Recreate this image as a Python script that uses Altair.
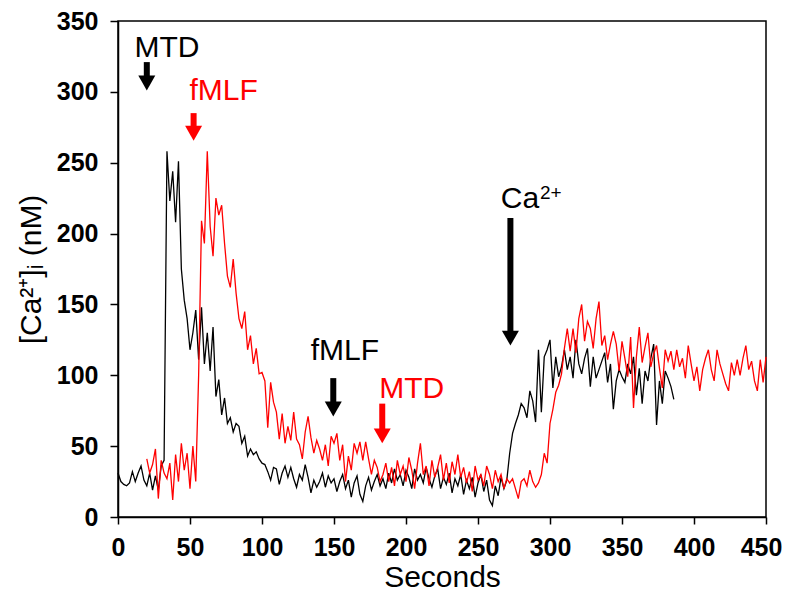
import altair as alt
import pandas as pd

# ---- data ----
black_t0 = 0
black_dt = 2
black_ca = [31, 25, 23, 22, 24, 32, 25, 31, 36, 26, 22, 31, 19, 29, 19, 36, 40,
            258, 223, 244, 208, 251, 175, 153, 140, 118, 130, 146, 111, 148, 108, 130,
            103, 134, 85, 97, 72, 84, 66, 70, 60, 66, 64, 52, 57, 43, 48, 44, 46, 41,
            38, 37, 32, 26, 35, 34, 23, 31, 36, 28, 35, 27, 21, 30, 26, 37, 28, 17,
            26, 21, 25, 31, 21, 29, 24, 27, 18, 25, 30, 20, 26, 14, 24, 29, 16, 11,
            22, 28, 19, 25, 30, 22, 27, 20, 31, 24, 34, 26, 30, 22, 33, 28, 20, 34,
            26, 30, 24, 35, 27, 21, 29, 34, 20, 28, 23, 31, 17, 27, 22, 30, 16, 26,
            20, 28, 14, 24, 30, 18, 26, 12, 8, 22, 15, 28, 20, 26, 45, 59, 66, 72,
            80, 77, 70, 89, 82, 67, 118, 74, 113, 118, 125, 91, 113, 99, 106, 118,
            104, 113, 98, 125, 108, 101, 112, 119, 92, 113, 98, 104, 110, 116, 95,
            108, 76, 96, 104, 99, 95, 108, 101, 113, 86, 105, 80, 103, 96, 112, 122,
            65, 96, 80, 103, 98, 92, 83]

red_t0 = 20
red_dt = 2
red_ca = [41, 31, 37, 48, 13, 40, 31, 27, 38, 12, 44, 25, 52, 33, 45, 20, 50, 25,
          100, 209, 193, 258, 205, 184, 225, 213, 220, 193, 170, 162, 182, 158, 140,
          133, 145, 118, 128, 108, 119, 101, 102, 96, 63, 95, 81, 74, 55, 73, 52, 64,
          54, 74, 55, 51, 41, 60, 71, 56, 45, 54, 48, 40, 51, 36, 57, 52, 59, 40, 51,
          25, 43, 33, 52, 45, 53, 40, 53, 41, 30, 40, 35, 25, 30, 38, 25, 35, 22, 40,
          30, 36, 25, 42, 33, 20, 38, 52, 30, 36, 22, 40, 28, 35, 44, 26, 38, 24, 39,
          30, 44, 28, 35, 24, 32, 18, 36, 26, 30, 22, 36, 30, 20, 33, 25, 30, 20, 27,
          24, 27, 20, 13, 25, 27, 22, 33, 25, 21, 24, 30, 45, 38, 66, 76, 88, 93, 101,
          119, 133, 117, 133, 116, 140, 150, 124, 138, 133, 119, 140, 152, 121, 128,
          111, 122, 131, 122, 103, 124, 112, 99, 127, 77, 113, 134, 109, 120, 130, 106,
          115, 121, 105, 91, 118, 110, 117, 104, 118, 106, 112, 98, 121, 108, 96, 106,
          89, 104, 112, 118, 104, 96, 118, 108, 101, 94, 89, 109, 100, 111, 100, 112,
          121, 104, 110, 96, 89, 111, 95, 113]

x_ticks = [0, 50, 100, 150, 200, 250, 300, 350, 400, 450]
y_ticks = [0, 50, 100, 150, 200, 250, 300, 350]

# arrows: position, shaft top, head base, head tip, colour
arrow_x = [20, 52.5, 149.5, 183.5, 272.5]
arrow_top = [321, 285, 98, 80, 211]
arrow_base = [310, 274.5, 80, 61, 130]
arrow_tip = [301, 265.5, 71, 52, 121]
arrow_color = ["black", "red", "black", "red", "black"]

# labels
label_text = ["MTD", "fMLF", "fMLF", "MTD"]
label_x = [34, 73.3, 157.6, 204]
label_y = [324.6, 294.4, 110.6, 83.8]
label_color = ["black", "red", "black", "red"]

ca_text = ["Ca"]
ca_x = [265.8]
ca_y = [218.3]
sup_text = ["2+"]
sup_x = [293]
sup_y = [224.6]

# ---- tables ----
black_df = pd.DataFrame({"t": [black_t0 + i * black_dt for i in range(len(black_ca))],
                         "ca": black_ca})
red_df = pd.DataFrame({"t": [red_t0 + i * red_dt for i in range(len(red_ca))],
                       "ca": red_ca})
arrow_df = pd.DataFrame({"x": arrow_x, "top": arrow_top, "base": arrow_base,
                         "tip": arrow_tip, "c": arrow_color})
label_df = pd.DataFrame({"x": label_x, "y": label_y, "txt": label_text, "c": label_color})
ca_df = pd.DataFrame({"x": ca_x, "y": ca_y, "txt": ca_text})
sup_df = pd.DataFrame({"x": sup_x, "y": sup_y, "txt": sup_text})

FONT = "Liberation Sans"
xscale = alt.Scale(domain=[0, 450], nice=False, zero=False)
yscale = alt.Scale(domain=[0, 350], nice=False, zero=False)
xaxis = alt.Axis(values=x_ticks, title="Seconds", labelPadding=11, titlePadding=2,
                 tickSize=7, labelFlush=False,
                 labelOffset={"condition": {"test": "datum.value == 450", "value": -5},
                              "value": 0})
yaxis = alt.Axis(values=y_ticks, title="[Ca²⁺]ᵢ (nM)", labelPadding=12, titlePadding=10,
                 labelFlush=False)


def X(f):
    return alt.X(f, type="quantitative", scale=xscale, axis=xaxis)


def Y(f):
    return alt.Y(f, type="quantitative", scale=yscale, axis=yaxis)


colors = alt.Scale(domain=["black", "red"], range=["#000000", "#ff0000"])

black_line = alt.Chart(black_df).mark_line(color="#000000", strokeWidth=1.3).encode(
    x=X("t"), y=Y("ca"))
red_line = alt.Chart(red_df).mark_line(color="#ff0000", strokeWidth=1.3).encode(
    x=X("t"), y=Y("ca"))

shafts = alt.Chart(arrow_df).mark_rule(strokeWidth=6, strokeCap="butt").encode(
    x=X("x"), y=Y("top"), y2="base",
    color=alt.Color("c:N", scale=colors, legend=None))
heads = alt.Chart(arrow_df).mark_point(
    shape="M-1,-1.75L1,-1.75L0,0Z", size=289, filled=True, opacity=1, strokeWidth=0
).encode(x=X("x"), y=Y("tip"), color=alt.Color("c:N", scale=colors, legend=None))

labels = alt.Chart(label_df).mark_text(
    font=FONT, fontSize=30, align="center", baseline="alphabetic"
).encode(x=X("x"), y=Y("y"), text="txt:N",
         color=alt.Color("c:N", scale=colors, legend=None))
ca_lab = alt.Chart(ca_df).mark_text(
    font=FONT, fontSize=30, align="left", baseline="alphabetic", color="black"
).encode(x=X("x"), y=Y("y"), text="txt:N")
sup_lab = alt.Chart(sup_df).mark_text(
    font=FONT, fontSize=19, align="left", baseline="alphabetic", color="black"
).encode(x=X("x"), y=Y("y"), text="txt:N")

chart = alt.layer(black_line, red_line, shafts, heads, labels, ca_lab, sup_lab).properties(
    width=648, height=496,
    autosize=alt.AutoSizeParams(type="none"),
    padding={"left": 110, "top": 13, "right": 17, "bottom": 75}
).configure_view(
    stroke="black", strokeWidth=1.5
).configure_axis(
    grid=False, domainColor="black", domainWidth=1.5, tickColor="black", tickWidth=1.5,
    tickSize=8, labelFont=FONT, labelFontWeight="bold", labelFontSize=25,
    labelColor="black", titleFont=FONT, titleFontWeight="normal", titleFontSize=30,
    titleColor="black"
)

chart.save("out.html", embed_options={"renderer": "svg", "actions": False})
